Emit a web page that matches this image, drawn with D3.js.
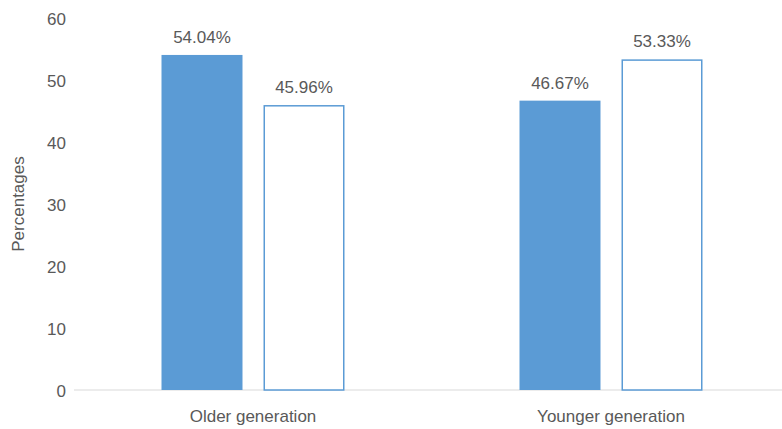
<!DOCTYPE html>
<html><head><meta charset="utf-8">
<script src="https://cdn.jsdelivr.net/npm/d3@7"></script>
<style>body{margin:0;background:#fff}svg{display:block}text{font-family:"Liberation Sans",Arial,sans-serif;fill:#595959}</style>
</head><body><svg id="c" width="782" height="429"></svg>
<script>
const categories = ["Older generation", "Younger generation"];
const seriesNames = ["Series 1", "Series 2"];
const series1 = [54.04, 46.67];
const series2 = [45.96, 53.33];
const yTicks = [0, 10, 20, 30, 40, 50, 60];
const yTitle = "Percentages";

(function () {
const svg = d3.select("#c");
const mLeft = 74, mRight = 790, mTop = 18, mBottom = 390;
const fs = "17px";
const x = d3.scaleBand().domain(categories).range([mLeft, mRight]).paddingInner(0).paddingOuter(0);
const inner = d3.scaleBand().domain(seriesNames).range([0, 183]).paddingInner(0.206);
const y = d3.scaleLinear().domain([0, 60]).range([mBottom, mTop]);
const blue = "#5B9BD5";

const data = [];
categories.forEach((c, i) => {
  data.push({c, s: seriesNames[0], v: series1[i]});
  data.push({c, s: seriesNames[1], v: series2[i]});
});
const off = (x.bandwidth() - 183) / 2;

svg.append("line").attr("x1", mLeft).attr("x2", 782).attr("y1", y(0)).attr("y2", y(0))
  .attr("stroke", "#d9d9d9").attr("stroke-width", 1.2);

const yAxis = d3.axisLeft(y).tickValues(yTicks).tickSize(0).tickPadding(0);
const ga = svg.append("g").attr("transform", `translate(66,0)`).call(yAxis);
ga.select(".domain").remove();
ga.selectAll("text").attr("font-size", fs).attr("fill", "#595959").attr("dy", "0.4em")
  .style("font-family", '"Liberation Sans",Arial,sans-serif');

data.forEach(d => {
  const bx = x(d.c) + off + inner(d.s);
  const filled = d.s === seriesNames[0];
  const yt = y(d.v);
  svg.append("rect")
    .attr("x", filled ? bx : bx + 0.75)
    .attr("y", filled ? yt : yt + 0.75)
    .attr("width", filled ? inner.bandwidth() : inner.bandwidth() - 1.5)
    .attr("height", filled ? y(0) - yt : y(0) - yt - 0.75)
    .attr("fill", filled ? blue : "#fff")
    .attr("stroke", filled ? "none" : blue)
    .attr("stroke-width", 1.5);
  svg.append("text")
    .attr("x", bx + inner.bandwidth() / 2)
    .attr("y", yt - 12)
    .attr("text-anchor", "middle")
    .attr("font-size", fs)
    .text(d.v.toFixed(2) + "%");
});

categories.forEach(c => {
  svg.append("text").attr("x", x(c) + x.bandwidth() / 2).attr("y", 422)
    .attr("text-anchor", "middle").attr("font-size", fs).text(c);
});

svg.append("text").attr("transform", `translate(24,204) rotate(-90)`)
  .attr("text-anchor", "middle").attr("font-size", fs).text(yTitle);
})();
</script></body></html>
